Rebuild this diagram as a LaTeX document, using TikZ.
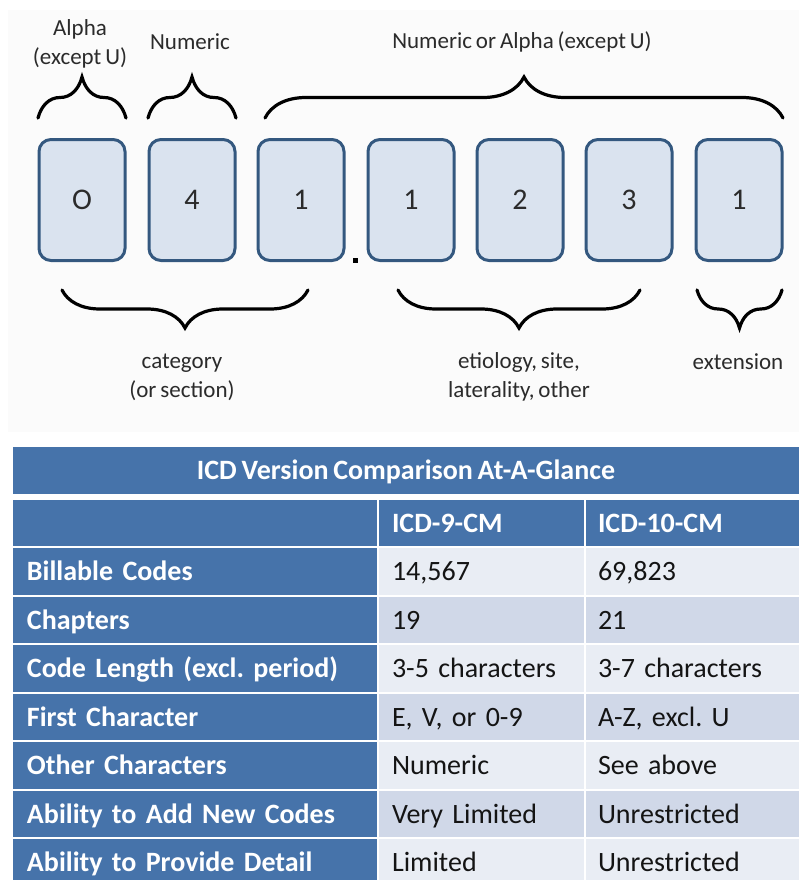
\documentclass[tikz,border=0pt]{standalone}
\usepackage{fontspec}
\setmainfont{Carlito}[WordSpace=0.75]
\frenchspacing
\usetikzlibrary{decorations.pathreplacing}
\definecolor{boxfill}{HTML}{DAE3EF}
\definecolor{boxline}{HTML}{34587F}
\definecolor{tblue}{HTML}{4673AA}
\definecolor{rowlight}{HTML}{E9EDF4}
\definecolor{rowdark}{HTML}{D0D8E8}
\definecolor{inkgray}{HTML}{2B2B2B}
\begin{document}
\begin{tikzpicture}[x=1pt,y=-1pt,every node/.style={inner sep=0pt},
    charbox/.style={draw=boxline,line width=3pt,fill=boxfill,rounded corners=12pt,
      minimum width=86pt,minimum height=121pt,text=inkgray,font=\fontsize{30}{30}\selectfont},
    lbl/.style={text=inkgray,align=center,font=\fontsize{23}{29}\selectfont},
    brace/.style={decorate,decoration={brace,amplitude=#1},line width=3.2pt,line cap=round},
    cell/.style={minimum height=46.5pt,text height=18pt,text depth=0pt,align=left,
      font=\fontsize{28}{30}\selectfont,text=black!92},
    colA/.style={cell,text width=336pt,inner xsep=14pt},
    colB/.style={cell,text width=179pt,inner xsep=13pt},
    colC/.style={cell,text width=189pt,inner xsep=12pt},
    hd/.style={fill=tblue,text=white,font=\fontsize{28}{30}\selectfont\bfseries}]
    \useasboundingbox (0,0) rectangle (799,880);
    \fill[black!1.5] (8,10) rectangle (799,432);
    % code characters
    \node[charbox] (c1) at (82,200)  {O};
    \node[charbox] (c2) at (192,200) {4};
    \node[charbox] (c3) at (301,200) {1};
    \node[charbox] (c4) at (411,200) {1};
    \node[charbox] (c5) at (520,200) {2};
    \node[charbox] (c6) at (629,200) {3};
    \node[charbox] (c7) at (739,200) {1};
    \node[fill=black,minimum size=5pt] (dot) at (355,260) {};
    % braces above
    \coordinate (t1a) at (38,118);  \coordinate (t1b) at (126,118);
    \coordinate (t2a) at (148,118); \coordinate (t2b) at (236,118);
    \coordinate (t3a) at (265,118); \coordinate (t3b) at (783,118);
    \draw[brace=41pt] (t1a) -- (t1b);
    \draw[brace=41pt] (t2a) -- (t2b);
    \draw[brace=41pt] (t3a) -- (t3b);
    \node[lbl] (alpha) at (80,44) {Alpha\\(except U)};
    \node[lbl] (num) at (190,42) {Numeric};
    \node[lbl] (numalpha) at (522,42) {Numeric or Alpha (except U)};
    % braces below
    \coordinate (b1a) at (62,290);  \coordinate (b1b) at (308,290);
    \coordinate (b2a) at (398,290); \coordinate (b2b) at (640,290);
    \coordinate (b3a) at (697,290); \coordinate (b3b) at (782,290);
    \draw[brace=38pt] (b1b) -- (b1a);
    \draw[brace=38pt] (b2b) -- (b2a);
    \draw[brace=38pt] (b3b) -- (b3a);
    \node[lbl] (cat) at (182,377) {category\\(or section)};
    \node[lbl] (etio) at (519,377) {etiology, site,\\laterality, other};
    \node[lbl] (ext) at (738,362) {extension};
    % comparison table
    \node[hd,minimum width=786pt,minimum height=46.5pt,text height=18pt,text depth=0pt] (title) at (406,470.5) {ICD Version Comparison At-A-Glance};
    \node[colA,hd] (h1) at (195,523) {};
    \node[colB,hd] (h2) at (481.5,523) {ICD-9-CM};
    \node[colC,hd] (h3) at (692.5,523) {ICD-10-CM};
    \node[colA,hd] (r1) at (195,571.5) {Billable Codes};
    \node[colB,fill=rowlight] (r1b) at (481.5,571.5) {14,567};
    \node[colC,fill=rowlight] (r1c) at (692.5,571.5) {69,823};
    \node[colA,hd] (r2) at (195,620) {Chapters};
    \node[colB,fill=rowdark] (r2b) at (481.5,620) {19};
    \node[colC,fill=rowdark] (r2c) at (692.5,620) {21};
    \node[colA,hd] (r3) at (195,668.5) {Code Length (excl. period)};
    \node[colB,fill=rowlight] (r3b) at (481.5,668.5) {3-5 characters};
    \node[colC,fill=rowlight] (r3c) at (692.5,668.5) {3-7 characters};
    \node[colA,hd] (r4) at (195,717) {First Character};
    \node[colB,fill=rowdark] (r4b) at (481.5,717) {E, V, or 0-9};
    \node[colC,fill=rowdark] (r4c) at (692.5,717) {A-Z, excl. U};
    \node[colA,hd] (r5) at (195,765.5) {Other Characters};
    \node[colB,fill=rowlight] (r5b) at (481.5,765.5) {Numeric};
    \node[colC,fill=rowlight] (r5c) at (692.5,765.5) {See above};
    \node[colA,hd] (r6) at (195,814) {Ability to Add New Codes};
    \node[colB,fill=rowdark] (r6b) at (481.5,814) {Very Limited};
    \node[colC,fill=rowdark] (r6c) at (692.5,814) {Unrestricted};
    \node[colA,hd] (r7) at (195,862.5) {Ability to Provide Detail};
    \node[colB,fill=rowlight] (r7b) at (481.5,862.5) {Limited};
    \node[colC,fill=rowlight] (r7c) at (692.5,862.5) {Unrestricted};
\end{tikzpicture}
\end{document}
